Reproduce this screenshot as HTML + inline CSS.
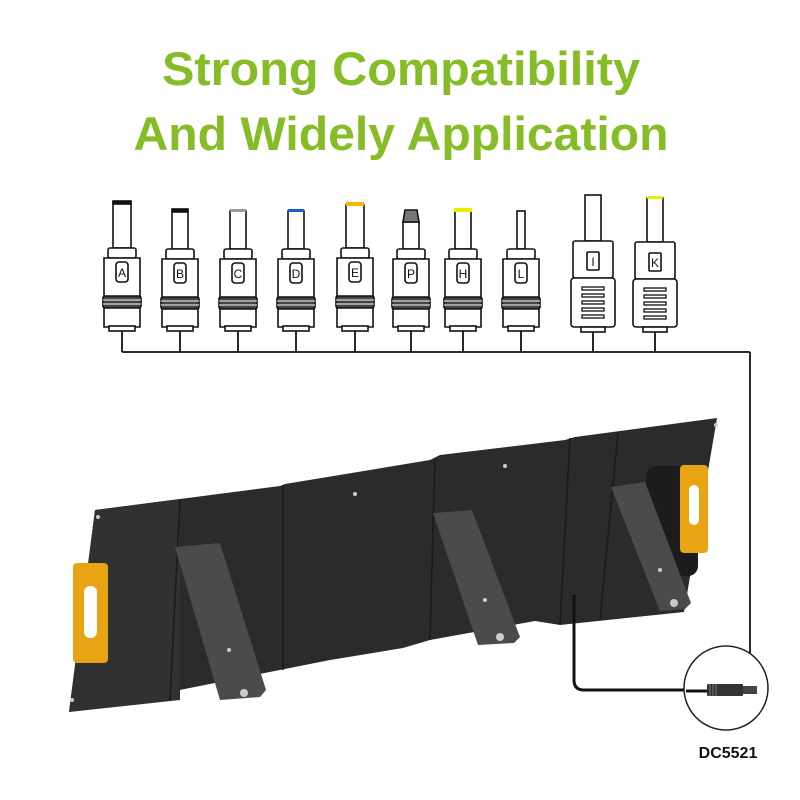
<!DOCTYPE html>
<html><head><meta charset="utf-8"><style>
html,body{margin:0;padding:0;background:#fff;width:800px;height:800px;overflow:hidden}
svg{display:block}
</style></head><body>
<svg width="800" height="800" viewBox="0 0 800 800" xmlns="http://www.w3.org/2000/svg" font-family="Liberation Sans, sans-serif">
<text x="401" y="85" font-size="47" font-weight="bold" fill="#86bc25" text-anchor="middle" textLength="478" lengthAdjust="spacingAndGlyphs">Strong Compatibility</text>
<text x="401" y="150" font-size="47" font-weight="bold" fill="#86bc25" text-anchor="middle" textLength="535" lengthAdjust="spacingAndGlyphs">And Widely Application</text>

<g stroke="#111" stroke-width="1.6" fill="#fff">
<!-- standard connectors -->
<g id="c">
</g>
</g>

<g id="conns" stroke="#111" stroke-width="1.6" fill="#fff" font-size="13">
<!-- template per connector: cx, tipTop, tipColor -->
</g>

<g stroke="#111" stroke-width="1.8" fill="none">
<line x1="122" y1="352" x2="750" y2="352"/>
<line x1="750" y1="352" x2="750" y2="655"/>
<line x1="122" y1="331" x2="122" y2="352"/><line x1="180" y1="331" x2="180" y2="352"/><line x1="238" y1="331" x2="238" y2="352"/><line x1="296" y1="331" x2="296" y2="352"/><line x1="355" y1="331" x2="355" y2="352"/><line x1="411" y1="331" x2="411" y2="352"/><line x1="463" y1="331" x2="463" y2="352"/><line x1="521" y1="331" x2="521" y2="352"/><line x1="593" y1="331" x2="593" y2="352"/><line x1="655" y1="331" x2="655" y2="352"/>
</g>

<!-- connectors drawn -->
<g stroke="#111" stroke-width="1.6" fill="#fff" font-size="12" text-anchor="middle">
<!-- A -->
<g transform="translate(122,0)">
<rect x="-9" y="203" width="18" height="45"/><rect x="-9" y="201" width="18" height="3" fill="#111"/>
<rect x="-14" y="248" width="28" height="10" rx="2"/><path d="M-18 258 H18 V327 H-18 Z"/>
<rect x="-6" y="262" width="12" height="20" rx="3"/><text x="0" y="277" stroke="none" fill="#111">A</text>
<rect x="-19" y="296" width="38" height="12" rx="2" fill="#444"/><line x1="-19" y1="300" x2="19" y2="300" stroke="#fff" stroke-width="1"/><line x1="-19" y1="304" x2="19" y2="304" stroke="#fff" stroke-width="1"/>
<rect x="-13" y="326" width="26" height="5"/></g>
<!-- B -->
<g transform="translate(180,0)">
<rect x="-8" y="211" width="16" height="38"/><rect x="-8" y="209" width="16" height="3" fill="#111"/>
<rect x="-14" y="249" width="28" height="10" rx="2"/><path d="M-18 259 H18 V327 H-18 Z"/>
<rect x="-6" y="263" width="12" height="20" rx="3"/><text x="0" y="278" stroke="none" fill="#111">B</text>
<rect x="-19" y="297" width="38" height="12" rx="2" fill="#444"/><line x1="-19" y1="301" x2="19" y2="301" stroke="#fff" stroke-width="1"/><line x1="-19" y1="305" x2="19" y2="305" stroke="#fff" stroke-width="1"/>
<rect x="-13" y="326" width="26" height="5"/></g>
<!-- C -->
<g transform="translate(238,0)">
<rect x="-8" y="211" width="16" height="38"/><rect x="-8" y="209" width="16" height="3" fill="#999" stroke="none"/>
<rect x="-14" y="249" width="28" height="10" rx="2"/><path d="M-18 259 H18 V327 H-18 Z"/>
<rect x="-6" y="263" width="12" height="20" rx="3"/><text x="0" y="278" stroke="none" fill="#111">C</text>
<rect x="-19" y="297" width="38" height="12" rx="2" fill="#444"/><line x1="-19" y1="301" x2="19" y2="301" stroke="#fff" stroke-width="1"/><line x1="-19" y1="305" x2="19" y2="305" stroke="#fff" stroke-width="1"/>
<rect x="-13" y="326" width="26" height="5"/></g>
<!-- D -->
<g transform="translate(296,0)">
<rect x="-8" y="211" width="16" height="38"/><rect x="-8" y="209" width="16" height="3" fill="#1f5fbf" stroke="none"/>
<rect x="-14" y="249" width="28" height="10" rx="2"/><path d="M-18 259 H18 V327 H-18 Z"/>
<rect x="-6" y="263" width="12" height="20" rx="3"/><text x="0" y="278" stroke="none" fill="#111">D</text>
<rect x="-19" y="297" width="38" height="12" rx="2" fill="#444"/><line x1="-19" y1="301" x2="19" y2="301" stroke="#fff" stroke-width="1"/><line x1="-19" y1="305" x2="19" y2="305" stroke="#fff" stroke-width="1"/>
<rect x="-13" y="326" width="26" height="5"/></g>
<!-- E -->
<g transform="translate(355,0)">
<rect x="-9" y="205" width="18" height="43"/><rect x="-9" y="202" width="18" height="4" fill="#f5b800" stroke="none"/>
<rect x="-14" y="248" width="28" height="10" rx="2"/><path d="M-18 258 H18 V327 H-18 Z"/>
<rect x="-6" y="262" width="12" height="20" rx="3"/><text x="0" y="277" stroke="none" fill="#111">E</text>
<rect x="-19" y="296" width="38" height="12" rx="2" fill="#444"/><line x1="-19" y1="300" x2="19" y2="300" stroke="#fff" stroke-width="1"/><line x1="-19" y1="304" x2="19" y2="304" stroke="#fff" stroke-width="1"/>
<rect x="-13" y="326" width="26" height="5"/></g>
<!-- P -->
<g transform="translate(411,0)">
<rect x="-8" y="222" width="16" height="27"/><path d="M-8 222 L-6 210 H6 L8 222 Z" fill="#777"/>
<rect x="-14" y="249" width="28" height="10" rx="2"/><path d="M-18 259 H18 V327 H-18 Z"/>
<rect x="-6" y="263" width="12" height="20" rx="3"/><text x="0" y="278" stroke="none" fill="#111">P</text>
<rect x="-19" y="297" width="38" height="12" rx="2" fill="#444"/><line x1="-19" y1="301" x2="19" y2="301" stroke="#fff" stroke-width="1"/><line x1="-19" y1="305" x2="19" y2="305" stroke="#fff" stroke-width="1"/>
<rect x="-13" y="326" width="26" height="5"/></g>
<!-- H -->
<g transform="translate(463,0)">
<rect x="-8" y="211" width="16" height="38"/><rect x="-9" y="208" width="18" height="4" fill="#e8f000" stroke="none"/>
<rect x="-14" y="249" width="28" height="10" rx="2"/><path d="M-18 259 H18 V327 H-18 Z"/>
<rect x="-6" y="263" width="12" height="20" rx="3"/><text x="0" y="278" stroke="none" fill="#111">H</text>
<rect x="-19" y="297" width="38" height="12" rx="2" fill="#444"/><line x1="-19" y1="301" x2="19" y2="301" stroke="#fff" stroke-width="1"/><line x1="-19" y1="305" x2="19" y2="305" stroke="#fff" stroke-width="1"/>
<rect x="-13" y="326" width="26" height="5"/></g>
<!-- L -->
<g transform="translate(521,0)">
<rect x="-4" y="211" width="8" height="38"/>
<rect x="-14" y="249" width="28" height="10" rx="2"/><path d="M-18 259 H18 V327 H-18 Z"/>
<rect x="-6" y="263" width="12" height="20" rx="3"/><text x="0" y="278" stroke="none" fill="#111">L</text>
<rect x="-19" y="297" width="38" height="12" rx="2" fill="#444"/><line x1="-19" y1="301" x2="19" y2="301" stroke="#fff" stroke-width="1"/><line x1="-19" y1="305" x2="19" y2="305" stroke="#fff" stroke-width="1"/>
<rect x="-13" y="326" width="26" height="5"/></g>
<!-- I -->
<g transform="translate(593,0)">
<rect x="-8" y="195" width="16" height="46"/>
<rect x="-20" y="241" width="40" height="37" rx="2"/>
<rect x="-6" y="252" width="12" height="18" rx="1"/><text x="0" y="266" stroke="none" fill="#111">I</text>
<rect x="-22" y="278" width="44" height="49" rx="3"/>
<g stroke-width="1.3"><rect x="-11" y="287" width="22" height="3"/><rect x="-11" y="294" width="22" height="3"/><rect x="-11" y="301" width="22" height="3"/><rect x="-11" y="308" width="22" height="3"/><rect x="-11" y="315" width="22" height="3"/></g>
<rect x="-12" y="327" width="24" height="5"/></g>
<!-- K -->
<g transform="translate(655,0)">
<rect x="-8" y="198" width="16" height="44"/><rect x="-8" y="196" width="16" height="3" fill="#e8f000" stroke="none"/>
<rect x="-20" y="242" width="40" height="37" rx="2"/>
<rect x="-6" y="253" width="12" height="18" rx="1"/><text x="0" y="267" stroke="none" fill="#111">K</text>
<rect x="-22" y="279" width="44" height="48" rx="3"/>
<g stroke-width="1.3"><rect x="-11" y="288" width="22" height="3"/><rect x="-11" y="295" width="22" height="3"/><rect x="-11" y="302" width="22" height="3"/><rect x="-11" y="309" width="22" height="3"/><rect x="-11" y="316" width="22" height="3"/></g>
<rect x="-12" y="327" width="24" height="5"/></g>
</g>

<!-- Solar panel -->
<path d="M95 510 L180 499 L280 486 L285 484 L430 460 L440 455 L565 440 L575 437 L717 418 L684 612 L560 625 L535 621 L430 640 L403 648 L330 660 L69 712 Z" fill="#2a2b2d"/>
<path d="M95 510 L180 499 L180 700 L69 712 Z" fill="#303133"/>
<g stroke="#1a1a1a" stroke-width="1.5">
<line x1="180" y1="500" x2="170" y2="700"/><line x1="283" y1="485" x2="283" y2="670"/><line x1="435" y1="458" x2="430" y2="640"/><line x1="570" y1="438" x2="560" y2="625"/><line x1="618" y1="432" x2="600" y2="620"/>
</g>
<!-- handles -->
<rect x="73" y="563" width="35" height="100" rx="4" fill="#e8a413"/><rect x="84" y="586" width="13" height="52" rx="6" fill="#fff"/>
<rect x="646" y="466" width="52" height="110" rx="10" fill="#1c1c1c"/>
<rect x="680" y="465" width="28" height="88" rx="4" fill="#e8a413"/><rect x="689" y="485" width="10" height="40" rx="5" fill="#fff"/>
<!-- legs -->
<g fill="#4a4b4d">
<path d="M175 547 L220 543 L266 690 L260 697 L220 700 Z"/>
<path d="M433 513 L472 510 L520 637 L514 643 L478 645 Z"/>
<path d="M611 487 L645 482 L691 603 L685 609 L660 611 Z"/>
</g>
<g fill="#ccc"><circle cx="244" cy="693" r="4"/><circle cx="229" cy="650" r="2"/><circle cx="500" cy="637" r="4"/><circle cx="485" cy="600" r="2"/><circle cx="674" cy="603" r="4"/><circle cx="660" cy="570" r="2"/>
<circle cx="98" cy="517" r="2"/><circle cx="355" cy="494" r="2"/><circle cx="505" cy="466" r="2"/><circle cx="716" cy="425" r="2"/><circle cx="72" cy="700" r="2"/></g>
<!-- cable -->
<path d="M574 595 V680 Q574 690 584 690 H710" fill="none" stroke="#111" stroke-width="3"/>
<circle cx="726" cy="688" r="42" fill="#fff" stroke="#222" stroke-width="1.5"/>
<path d="M686 691 H708" stroke="#111" stroke-width="3"/>
<rect x="707" y="684" width="36" height="12" rx="1" fill="#333"/>
<g stroke="#777" stroke-width="1"><line x1="710" y1="684" x2="710" y2="696"/><line x1="713" y1="684" x2="713" y2="696"/><line x1="716" y1="684" x2="716" y2="696"/></g>
<rect x="743" y="686" width="14" height="8" fill="#444"/>
<text x="728" y="758" font-size="16" font-weight="bold" fill="#111" text-anchor="middle">DC5521</text>
</svg>
</body></html>
